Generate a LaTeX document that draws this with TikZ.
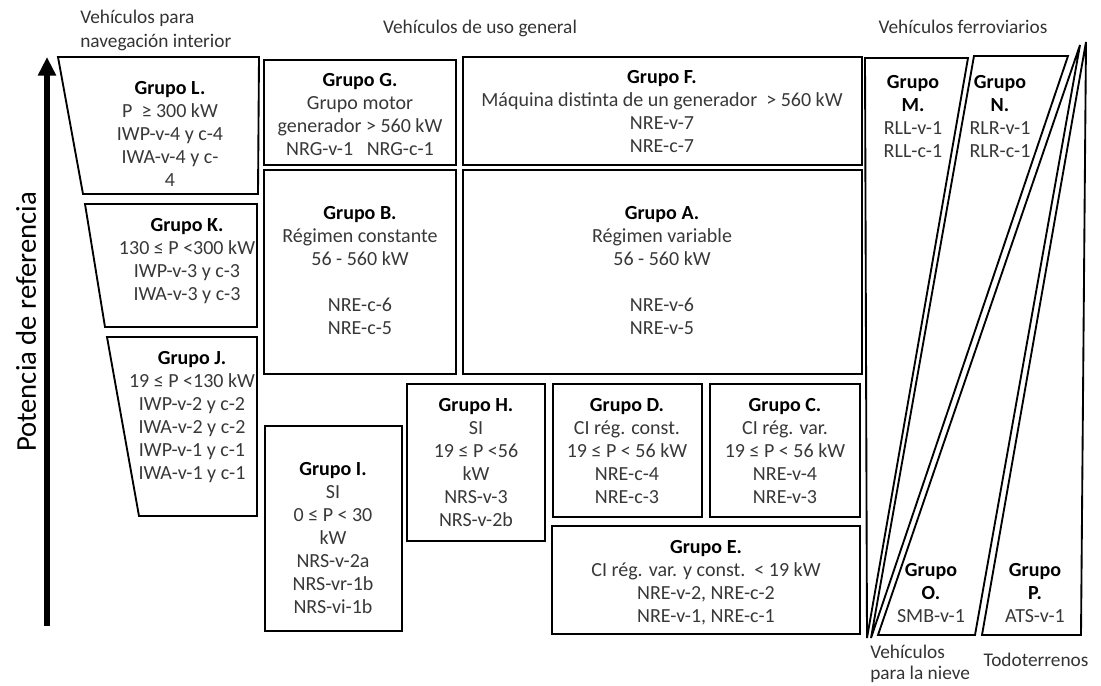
\documentclass[tikz,border=0pt]{standalone}
\usepackage{fontspec}
\setmainfont{Carlito}
\usetikzlibrary{arrows.meta}
% invisible strut fixing the height of the first line of every text block
\newcommand\tstrut{\rule{0pt}{12pt}}
\newcommand\grp[1]{\textcolor{black}{\bfseries #1}}
\begin{document}
\begin{tikzpicture}[x=0.75pt,y=-0.75pt,
  box/.style={draw=black, line width=1.7pt, line join=miter},
  trap/.style={draw=black, line width=1.4pt, line join=miter},
  txt/.style={align=center, inner sep=0pt, anchor=north, text=black!78,
              font=\fontsize{15}{17.25}\selectfont},
  head/.style={inner sep=0pt, anchor=base, text=black!80,
               font=\fontsize{14.5}{18}\selectfont},
]
\useasboundingbox (0,0) rectangle (1101,686);

% ---- vertical axis ----
\coordinate (foot) at (47,626);
\coordinate (tip) at (47,57);
\draw[line width=3.8pt, -{Triangle[length=14pt,width=13pt]}] (foot) -- (tip);
\node[rotate=90, inner sep=0pt, font=\fontsize{21.5}{24}\selectfont, text=black]
  (axis) at (26,322) {Potencia de referencia};

% ---- column headings ----
\node[head, anchor=base west] (h1a) at (80,23) {Vehículos para};
\node[head, anchor=base west] (h1b) at (80,47) {navegación interior};
\node[head] (h2) at (480,33) {Vehículos de uso general};
\node[head] (h3) at (963,33) {Vehículos ferroviarios};
\node[head, anchor=base west] (h4a) at (870,658) {Vehículos};
\node[head, anchor=base west] (h4b) at (870,679) {para la nieve};
\node[head] (h5) at (1036,666) {Todoterrenos};

% ---- inland navigation (trapezoids) ----
\draw[trap] (58,57) -- (259,57) -- (258,194) -- (83,194) -- cycle;
\draw[trap] (85,204) -- (257,204) -- (257,327) -- (105,327) -- cycle;
\draw[trap] (107,337) -- (257,337) -- (257,516) -- (139,516) -- cycle;

\node[txt] (L) at (170,78) {\tstrut\grp{Grupo L.}\\P\ \ ≥ 300 kW\\IWP-v-4 y c-4\\IWA-v-4 y c-\\4};
\node[txt] (K) at (187,215) {\tstrut\grp{Grupo K.}\\130 ≤ P <300 kW\\IWP-v-3 y c-3\\IWA-v-3 y c-3};
\node[txt] (J) at (192,348) {\tstrut\grp{Grupo J.}\\19 ≤ P <130 kW\\IWP-v-2 y c-2\\IWA-v-2 y c-2\\IWP-v-1 y c-1\\IWA-v-1 y c-1};

% ---- general purpose engines ----
\draw[box] (264,60) rectangle (456,165);
\draw[box] (463,57) rectangle (862,165);
\draw[box] (264,170) rectangle (456,374);
\draw[box] (463,170) rectangle (862,374);
\draw[box] (407,384) rectangle (545,541);
\draw[box] (553,384) rectangle (702,517);
\draw[box] (710,384) rectangle (860,517);
\draw[box] (552,526) rectangle (860,634);
\draw[box] (265,426) rectangle (402,631);

\node[txt] (G) at (360,70) {\tstrut\grp{Grupo G.}\\Grupo motor\\generador > 560 kW\\NRG-v-1\ \ \ NRG-c-1};
\node[txt] (F) at (662,67) {\tstrut\grp{Grupo F.}\\Máquina distinta de un generador\ \ > 560 kW\\NRE-v-7\\NRE-c-7};
\node[txt] (B) at (360,203) {\tstrut\grp{Grupo B.}\\Régimen constante\\56 - 560 kW\\[17.25pt]NRE-c-6\\NRE-c-5};
\node[txt] (A) at (662,203) {\tstrut\grp{Grupo A.}\\Régimen variable\\56 - 560 kW\\[17.25pt]NRE-v-6\\NRE-v-5};
\node[txt] (H) at (476,395) {\tstrut\grp{Grupo H.}\\SI\\19 ≤ P <56\\kW\\NRS-v-3\\NRS-v-2b};
\node[txt] (D) at (627,395) {\tstrut\grp{Grupo D.}\\CI rég. const.\\19 ≤ P < 56 kW\\NRE-c-4\\NRE-c-3};
\node[txt] (C) at (785,395) {\tstrut\grp{Grupo C.}\\CI rég. var.\\19 ≤ P < 56 kW\\NRE-v-4\\NRE-v-3};
\node[txt] (E) at (706,537) {\tstrut\grp{Grupo E.}\\CI rég. var. y const.\ \ < 19 kW\\NRE-v-2, NRE-c-2\\NRE-v-1, NRE-c-1};
\node[txt] (I) at (333,459) {\tstrut\grp{Grupo I.}\\SI\\0 ≤ P < 30\\kW\\NRS-v-2a\\NRS-vr-1b\\NRS-vi-1b};

% ---- railway, snow and all-terrain vehicles ----
\draw[trap] (865,58) -- (968,58) -- (867,638) -- cycle;
\draw[trap] (974,56) -- (1068,56) -- (871,638) -- cycle;
\draw[trap] (1080,45) -- (975,635) -- (878,635) -- cycle;
\draw[trap] (1086,42) -- (1081,635) -- (982,635) -- cycle;

\node[txt] (M) at (913,72) {\tstrut\grp{Grupo}\\\grp{M.}\\RLL-v-1\\RLL-c-1};
\node[txt] (N) at (1000,72) {\tstrut\grp{Grupo}\\\grp{N.}\\RLR-v-1\\RLR-c-1};
\node[txt] (O) at (931,560) {\tstrut\grp{Grupo}\\\grp{O.}\\SMB-v-1};
\node[txt] (P) at (1035,560) {\tstrut\grp{Grupo}\\\grp{P.}\\ATS-v-1};
\end{tikzpicture}
\end{document}
